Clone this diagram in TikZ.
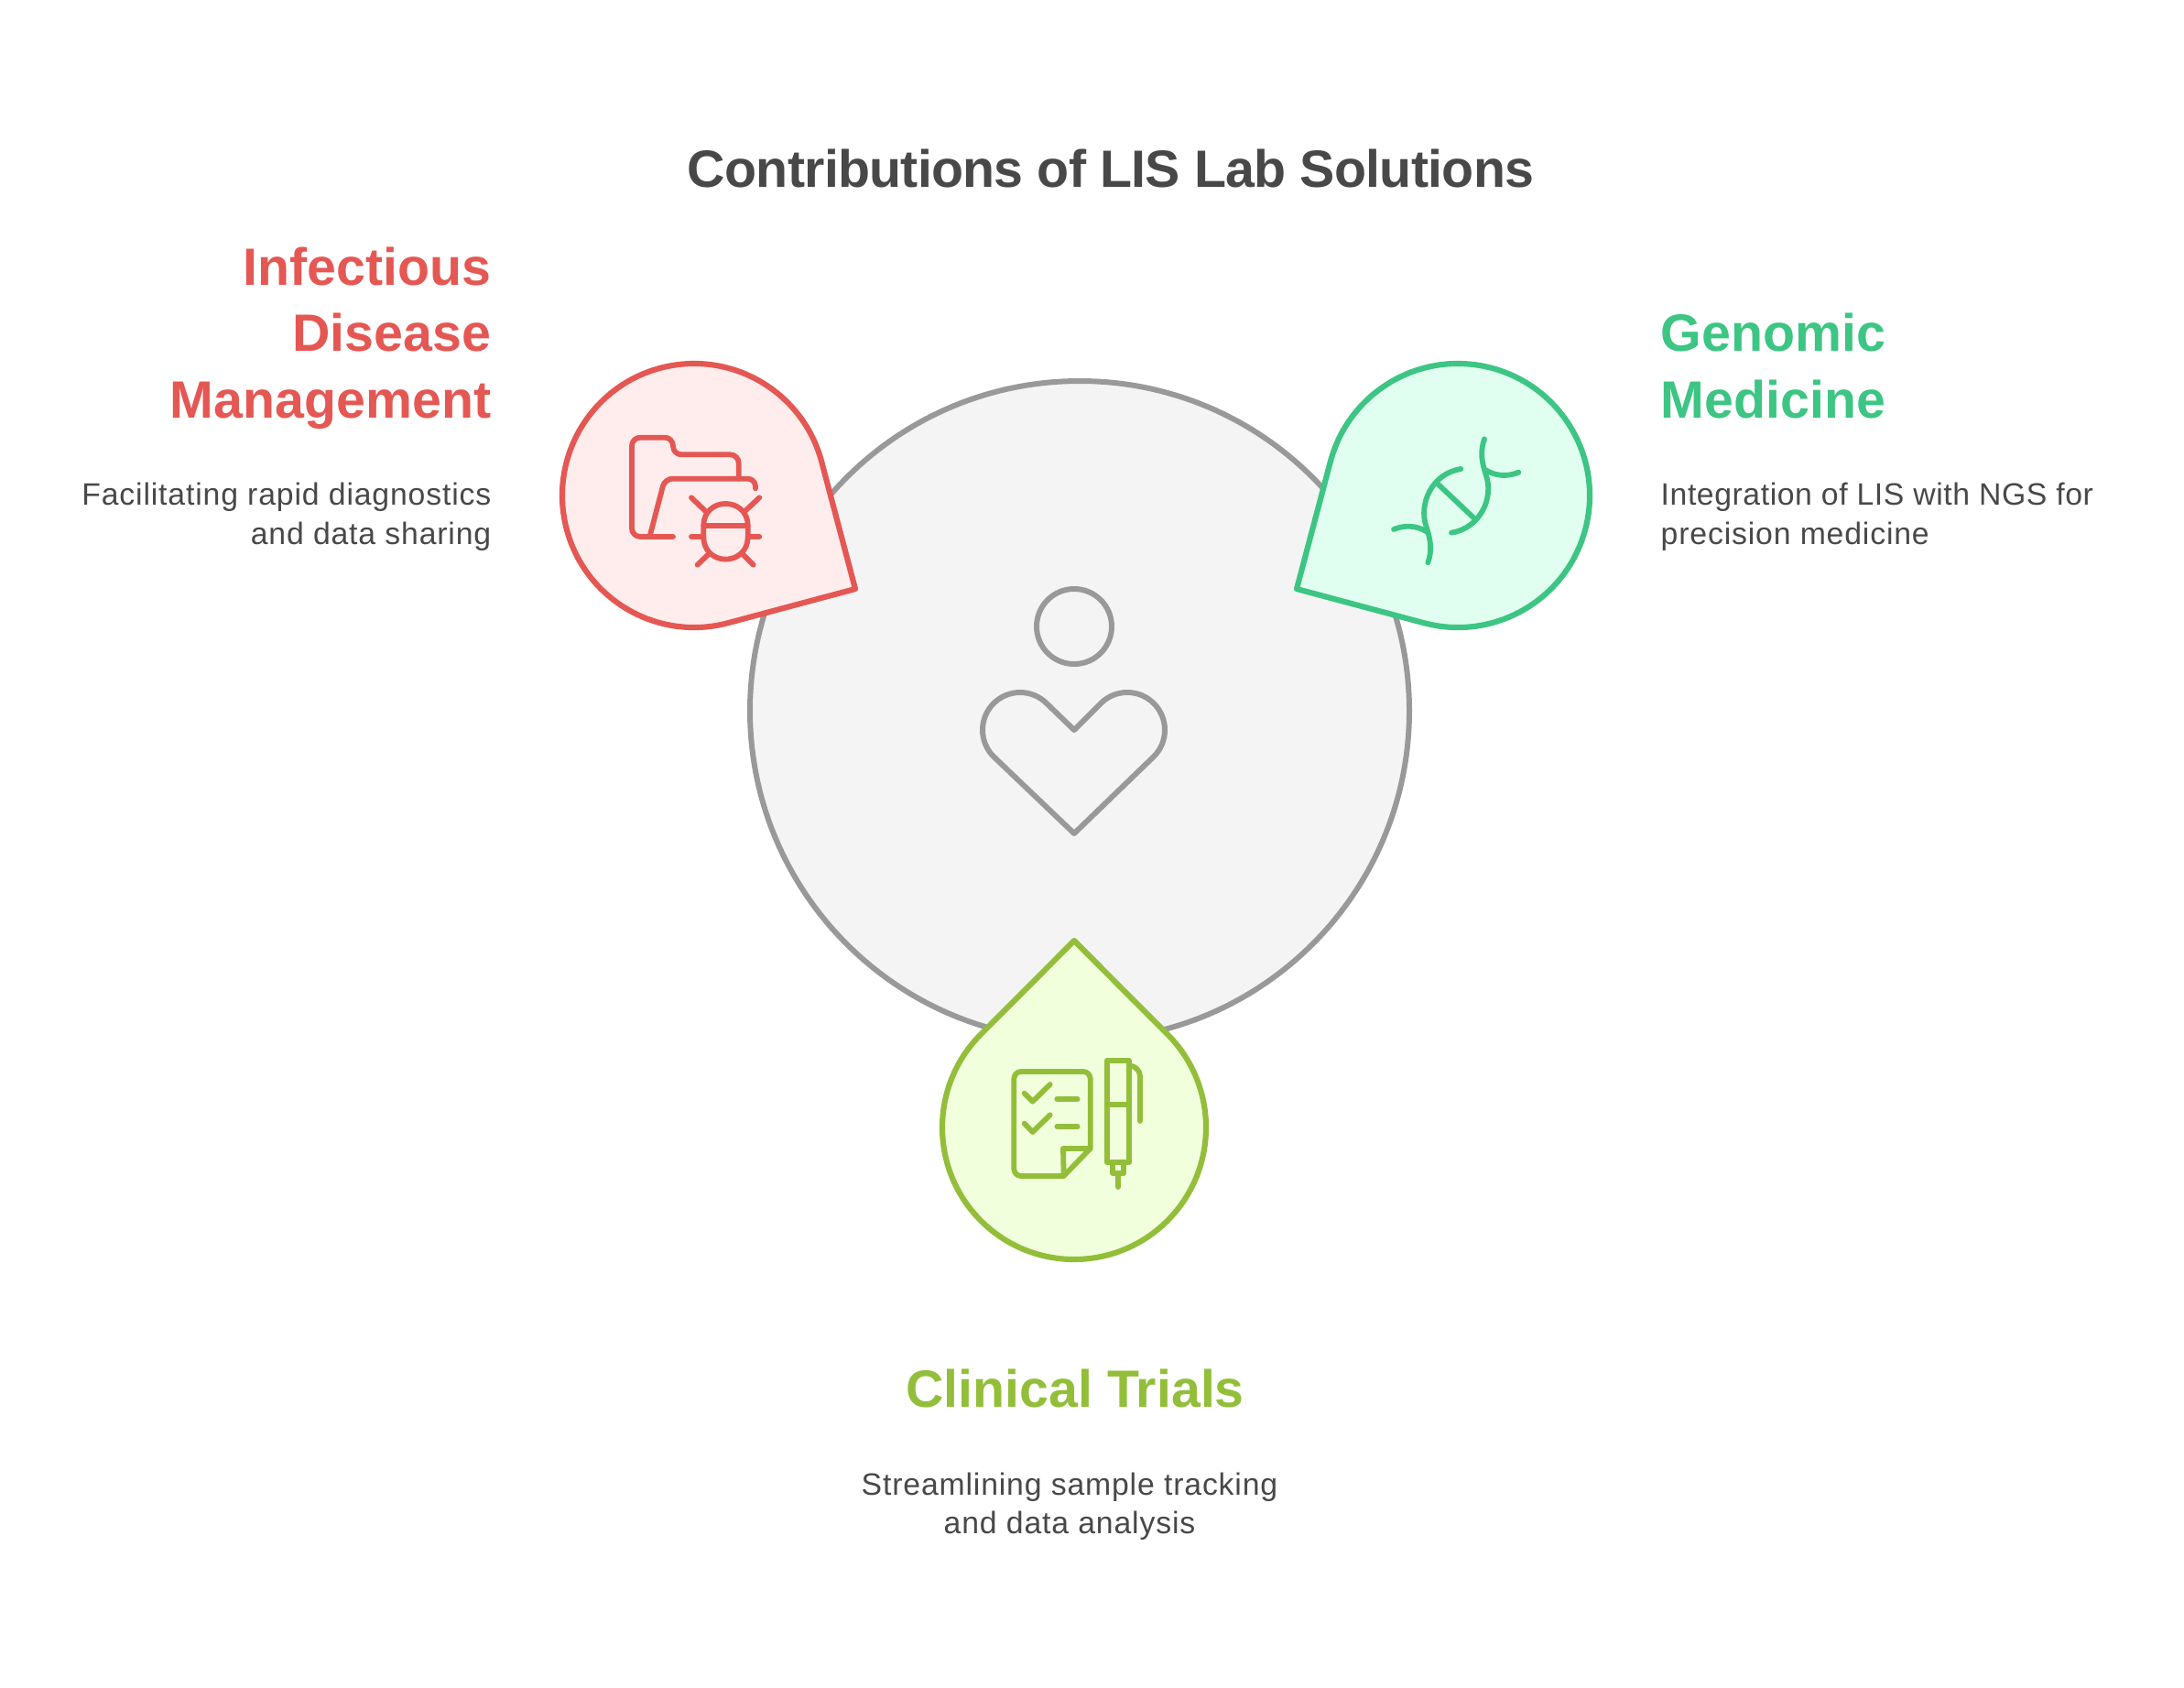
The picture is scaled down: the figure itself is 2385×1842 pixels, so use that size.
\documentclass[tikz,border=0pt]{standalone}
\usepackage{fontspec}
\setmainfont{Liberation Sans}
\definecolor{redline}{HTML}{E55753}
\definecolor{redfill}{HTML}{FFEDED}
\definecolor{greenline}{HTML}{3CC583}
\definecolor{greenfill}{HTML}{E1FFF0}
\definecolor{limeline}{HTML}{93BE3A}
\definecolor{limefill}{HTML}{F2FFDC}
\definecolor{grayline}{HTML}{999999}
\definecolor{grayfill}{HTML}{F4F4F4}
\definecolor{inktext}{HTML}{484848}

\begin{document}
\begin{tikzpicture}
[
x=0.01cm, y=-0.01cm,
hub/.style={
% The border:
line width=1.7pt,
draw=grayline,
% The filling:
fill=grayfill,
},
pin/.style={
% The border:
line width=1.75pt,
line join=round,
},
glyph/.style={
% The border:
line width=1.65pt,
line cap=round,
line join=round,
},
heading/.style={
% The text:
font=\fontsize{16.3pt}{20.5pt}\selectfont\bfseries,
inner sep=0pt,
},
blurb/.style={
% The text:
font=\fontsize{9.6pt}{11.95pt}\selectfont\addfontfeature{LetterSpace=2.5},
text=inktext,
inner sep=0pt,
}
]
    \useasboundingbox (0,0) rectangle (2385,1842);

    % the hub
    \draw[hub] (1179,776) circle[radius=360];
    \draw[glyph, grayline, line width=1.7pt] (1173,684) circle[radius=41];
    \draw[glyph, grayline, line width=1.7pt] (1173,910) -- (1085,826)
        arc[start angle=135, end angle=315, radius=41] -- (1173,797) -- (1202,768)
        arc[start angle=225, end angle=405, radius=41] -- cycle;

    % the three pins
    \draw[pin, draw=redline, fill=redfill] (758,541) ++(75:144)
        arc[start angle=75, end angle=345, radius=144] -- (934,643) -- cycle;
    \draw[pin, draw=greenline, fill=greenfill] (1592,541) ++(195:144)
        arc[start angle=195, end angle=465, radius=144] -- (1416,643) -- cycle;
    \draw[pin, draw=limeline, fill=limefill] (1173,1231) ++(315:144)
        arc[start angle=315, end angle=585, radius=144] -- (1173,1027) -- cycle;

    % folder and bug
    \begin{scope}[shift={(600,380)}, scale=0.3333, glyph, redline]
        \draw[rounded corners=2.6pt] (405,618) -- (270,618) -- (270,293) -- (405,293) -- (405,349) -- (620,349) -- (620,428);
        \draw[rounded corners=2.4pt] (330,612) -- (378,428) -- (675,428) -- (675,460);
        \draw (505,582) .. controls (505,535) and (540,510) .. (577,510)
            .. controls (615,510) and (650,535) .. (650,582) -- (650,620)
            .. controls (650,665) and (615,692) .. (577,692)
            .. controls (540,692) and (505,665) .. (505,620) -- cycle;
        \draw (505,582) -- (650,582);
        \draw (465,490) -- (512,535);
        \draw (688,490) -- (640,535);
        \draw (465,618) -- (505,618);
        \draw (650,618) -- (688,618);
        \draw (485,710) -- (525,672);
        \draw (668,710) -- (630,672);
    \end{scope}

    % helix
    \begin{scope}[shift={(1400,380)}, scale=0.3333, glyph, greenline]
        \draw (663,298) .. controls (648,340) and (655,375) .. (668,415)
            .. controls (695,490) and (650,590) .. (555,605);
        \draw (478,703) .. controls (493,661) and (486,626) .. (473,586)
            .. controls (446,511) and (491,411) .. (586,396);
        \draw (775,407) .. controls (740,422) and (700,420) .. (668,400);
        \draw (366,594) .. controls (401,579) and (441,581) .. (473,601);
        \draw (507,442) -- (632,560);
    \end{scope}

    % checklist and pen
    \begin{scope}[shift={(1020,1020)}, scale=0.3333, glyph, limeline]
        \draw[rounded corners=2.2pt] (425,792) -- (262,792) -- (262,450) -- (512,450) -- (512,702);
        \draw (512,702) -- (425,792) -- (423,702) -- (512,702);
        \draw (296,521) -- (323,548) -- (380,492);
        \draw (296,620) -- (323,648) -- (380,592);
        \draw (403,540) -- (470,540);
        \draw (403,630) -- (470,630);
        \draw (566,413) rectangle (640,747);
        \draw (566,557) -- (640,557);
        \draw (585,747) -- (585,783) -- (622,783) -- (622,747);
        \draw (603,783) -- (603,828);
        \draw (640,430) .. controls (660,432) and (675,447) .. (675,465) -- (675,612);
    \end{scope}

    % the texts
    \node[heading, text=inktext, anchor=base] (title) at (1213,204) {\addfontfeature{LetterSpace=-1.3}Contributions of LIS Lab Solutions};
    \node[heading, text=redline, anchor=base east, align=right] (infectious) at (537,456) {Infectious\\Disease\\Management};
    \node[blurb, anchor=base east, align=right] (infectiousblurb) at (537,594) {Facilitating rapid diagnostics\\and data sharing};
    \node[heading, text=greenline, anchor=base west, align=left] (genomic) at (1813,456) {Genomic\\Medicine};
    \node[blurb, anchor=base west, align=left] (genomicblurb) at (1813,594) {\addfontfeature{LetterSpace=1.7}Integration of LIS with NGS for\\precision medicine};
    \node[heading, text=limeline, anchor=base] (clinical) at (1174,1536) {Clinical Trials};
    \node[blurb, anchor=base, align=center] (clinicalblurb) at (1168,1674) {Streamlining sample tracking\\and data analysis};
\end{tikzpicture}
\end{document}
